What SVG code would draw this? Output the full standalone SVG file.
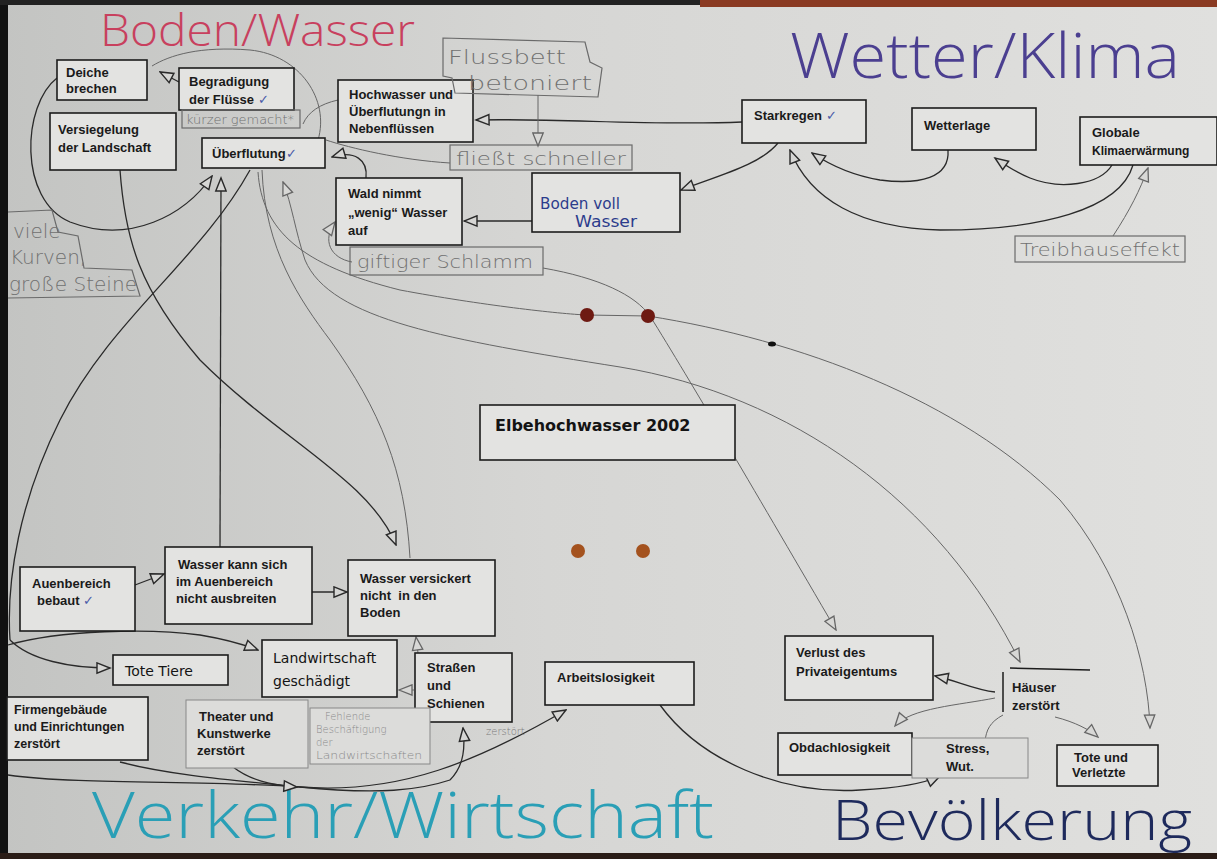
<svg xmlns="http://www.w3.org/2000/svg" width="1217" height="859" viewBox="0 0 1217 859">
<defs>
<linearGradient id="bg" x1="0" y1="0" x2="1" y2="0">
<stop offset="0" stop-color="#c3c4c2"/>
<stop offset="0.45" stop-color="#d6d6d4"/>
<stop offset="1" stop-color="#e0e0de"/>
</linearGradient>
<marker id="a" viewBox="0 0 12 10" refX="11" refY="5" markerWidth="16" markerHeight="13" markerUnits="userSpaceOnUse" orient="auto">
<path d="M1,1 L11,5 L1,9 Z" fill="#d6d6d4" stroke="#2a2a2a" stroke-width="1.1"/>
</marker>
<marker id="g" viewBox="0 0 12 10" refX="11" refY="5" markerWidth="16" markerHeight="13" markerUnits="userSpaceOnUse" orient="auto">
<path d="M1,1 L11,5 L1,9 Z" fill="#d8d8d6" stroke="#666" stroke-width="1"/>
</marker>
<style>
.box{fill:#e3e3e1;stroke:#1c1c1c;stroke-width:1.6}
.fbox{fill:#dcdcda;stroke:#888;stroke-width:1}
.hb{fill:none;stroke:#6a6a6a;stroke-width:1.2}
.t{font-family:"Liberation Sans",Arial,sans-serif;font-weight:bold;fill:#1a1a1a}
.r{font-family:"DejaVu Sans",sans-serif;fill:#141414}
.hw{font-family:"DejaVu Sans",sans-serif;font-weight:200;fill:#707070}
.ck{fill:#4a5aa8;font-weight:normal}
.c{fill:none;stroke:#2a2a2a;stroke-width:1.3}
.cg{fill:none;stroke:#666;stroke-width:1}
.title{font-family:"Open Sans","DejaVu Sans",sans-serif;font-weight:300}
</style>
</defs>
<rect x="0" y="0" width="1217" height="859" fill="url(#bg)"/>
<rect x="0" y="0" width="8" height="859" fill="#111"/>
<rect x="0" y="0" width="1217" height="5" fill="#222"/>
<rect x="700" y="0" width="517" height="7" fill="#8a3a22"/>
<rect x="0" y="853" width="1217" height="6" fill="#2a1c16"/>

<g id="titles">
<text class="title" x="100" y="46" font-size="44" fill="#c8405e" textLength="315" lengthAdjust="spacingAndGlyphs">Boden/Wasser</text>
<text class="title" x="790" y="78" font-size="62" fill="#4b3f90" textLength="390" lengthAdjust="spacingAndGlyphs">Wetter/Klima</text>
<text class="title" x="92" y="838" font-size="64" fill="#2a9fb6" textLength="622" lengthAdjust="spacingAndGlyphs">Verkehr/Wirtschaft</text>
<text class="title" x="832" y="840" font-size="56" fill="#1e2a5c" textLength="360" lengthAdjust="spacingAndGlyphs">Bevölkerung</text>
</g>

<g id="connectors">
<path class="c" d="M179,82 L160,72" marker-end="url(#a)"/>
<path class="c" d="M57,78 C22,105 18,200 70,222 C130,245 185,215 212,176" marker-end="url(#a)"/>
<path class="cg" d="M318,140 C330,100 300,55 250,50 C200,46 170,55 152,66"/>
<path class="c" d="M120,170 C125,240 140,290 200,360 C280,440 370,480 396,545" marker-end="url(#a)"/>
<path class="c" d="M220,547 L221,178" marker-end="url(#a)"/>
<path class="c" d="M250,170 C200,260 110,320 60,420 C20,500 6,580 10,640"/>
<path class="c" d="M10,640 C30,660 70,668 110,668" marker-end="url(#a)"/>
<path class="c" d="M8,645 C60,630 150,628 200,635 C230,640 245,645 258,650" marker-end="url(#a)"/>
<path class="cg" d="M262,170 C265,250 300,300 330,340 C380,410 405,470 410,558"/>
<path class="cg" d="M258,172 C262,230 300,265 400,290 C480,305 560,314 587,315 L648,316 C800,340 960,400 1060,500 C1120,570 1148,660 1150,728" marker-end="url(#g)"/>
<path class="cg" d="M543,268 C600,278 635,295 650,316 C690,380 760,500 836,630" marker-end="url(#g)"/>
<path class="cg" d="M620,367 C450,340 330,320 305,260 C295,230 292,205 283,182" marker-end="url(#g)"/>
<path class="cg" d="M620,367 C790,395 940,500 1020,662" marker-end="url(#g)"/>
<path class="c" d="M366,178 C368,160 355,150 332,157" marker-end="url(#a)"/>
<path class="c" d="M742,122 C650,126 560,118 476,120" marker-end="url(#a)"/>
<path class="cg" d="M538,95 L538,146" marker-end="url(#g)"/>
<path class="cg" d="M450,163 C400,160 350,148 326,140"/>
<path class="cg" d="M338,100 C320,104 308,112 303,124"/>
<path class="c" d="M778,143 C760,165 720,175 681,190" marker-end="url(#a)"/>
<path class="c" d="M532,221 L464,221" marker-end="url(#a)"/>
<path class="cg" d="M352,262 C330,258 322,240 335,222" marker-end="url(#g)"/>
<path class="c" d="M948,150 C950,178 920,185 880,180 C850,175 830,165 812,153" marker-end="url(#a)"/>
<path class="c" d="M1133,165 C1120,210 1040,230 940,230 C860,228 810,200 790,150" marker-end="url(#a)"/>
<path class="c" d="M1112,165 C1100,185 1060,190 1030,178 C1015,172 1005,165 995,158" marker-end="url(#a)"/>
<path class="cg" d="M1113,236 C1130,210 1140,190 1148,168" marker-end="url(#g)"/>
<path class="c" d="M135,585 L164,574" marker-end="url(#a)"/>
<path class="c" d="M312,592 L347,592" marker-end="url(#a)"/>
<path class="cg" d="M418,653 L416,637" marker-end="url(#g)"/>
<path class="cg" d="M414,690 L399,690" marker-end="url(#g)"/>
<path class="c" d="M120,762 C170,775 230,780 300,787 C380,795 420,790 450,780"/>
<path class="c" d="M8,775 C80,785 200,780 300,787 C400,795 480,760 566,710" marker-end="url(#a)"/>
<path class="c" d="M233,767 C250,780 270,785 297,787" marker-end="url(#a)"/>
<path class="c" d="M450,780 C465,765 465,745 463,728" marker-end="url(#a)"/>
<path class="c" d="M660,705 C700,760 780,795 860,790 C900,788 925,783 940,776" marker-end="url(#a)"/>
<path class="c" d="M995,692 C975,690 955,680 935,676" marker-end="url(#a)"/>
<path class="cg" d="M995,698 C960,705 910,708 895,726" marker-end="url(#g)"/>
<path class="cg" d="M1003,715 C990,722 986,730 985,742"/>
<path class="cg" d="M1055,717 C1075,722 1090,730 1098,737" marker-end="url(#g)"/>
<path class="cg" d="M915,752 L928,758" marker-end="url(#g)"/>
</g>

<g id="dots">
<circle cx="587" cy="315" r="7" fill="#6e1a12"/>
<circle cx="648" cy="316" r="7" fill="#6e1a12"/>
<circle cx="578" cy="551" r="7" fill="#a4521e"/>
<circle cx="643" cy="551" r="7" fill="#a4521e"/>
<ellipse cx="772" cy="344" rx="4" ry="2.5" fill="#111"/>
</g>

<g id="deiche"><rect class="box" x="57" y="60" width="90" height="40"/><text class="t" style="font-size:13px" x="66" y="77">Deiche</text><text class="t" style="font-size:13px" x="66" y="93">brechen</text></g>
<g id="begradigung"><rect class="box" x="179" y="68" width="115" height="42"/><text class="t" style="font-size:13px" x="189" y="86">Begradigung</text><text class="t" style="font-size:13px" x="189" y="104">der Flüsse <tspan class="ck">✓</tspan></text></g>
<g id="kuerzer"><rect class="hb" x="182" y="110" width="118" height="18"/><text class="hw" style="font-size:13px" x="186" y="124" textLength="108" lengthAdjust="spacingAndGlyphs">kürzer gemacht*</text></g>
<g id="versiegelung"><rect class="box" x="50" y="113" width="126" height="57"/><text class="t" style="font-size:13px" x="58" y="134">Versiegelung</text><text class="t" style="font-size:13px" x="58" y="152">der Landschaft</text></g>
<g id="ueberflutung"><rect class="box" x="202" y="138" width="123" height="30"/><text class="t" style="font-size:13px" x="212" y="158">Überflutung<tspan class="ck">✓</tspan></text></g>
<g id="hochwasser"><rect class="box" x="338" y="80" width="135" height="62"/><text class="t" style="font-size:13px" x="349" y="99">Hochwasser und</text><text class="t" style="font-size:13px" x="349" y="116">Überflutungn in</text><text class="t" style="font-size:13px" x="349" y="133">Nebenflüssen</text></g>
<g id="flussbett"><path class="hb" d="M443,38 L585,42 L590,62 L602,68 L598,97 L455,93 L452,78 L443,76 Z"/><text class="hw" style="font-size:19px" x="448" y="64" textLength="118" lengthAdjust="spacingAndGlyphs">Flussbett</text><text class="hw" style="font-size:19px" x="468" y="90" textLength="124" lengthAdjust="spacingAndGlyphs">betoniert</text></g>
<g id="fliesst"><rect class="hb" x="450" y="145" width="182" height="25"/><text class="hw" style="font-size:18px" x="456" y="165" textLength="170" lengthAdjust="spacingAndGlyphs">fließt schneller</text></g>
<g id="wald"><rect class="box" x="336" y="178" width="126" height="67"/><text class="t" style="font-size:13px" x="348" y="198">Wald nimmt</text><text class="t" style="font-size:13px" x="348" y="217">„wenig“ Wasser</text><text class="t" style="font-size:13px" x="348" y="235">auf</text></g>
<g id="schlamm"><rect class="hb" x="350" y="247" width="193" height="28"/><text class="hw" style="font-size:18px" x="357" y="268" textLength="176" lengthAdjust="spacingAndGlyphs">giftiger Schlamm</text></g>
<g id="bodenvoll"><rect class="box" x="532" y="173" width="148" height="59"/><text class="hw" style="font-size:16px;fill:#2c3c8c;font-weight:normal" x="540" y="209" textLength="80" lengthAdjust="spacingAndGlyphs">Boden voll</text><text class="hw" style="font-size:16px;fill:#2c3c8c;font-weight:normal" x="575" y="227" textLength="62" lengthAdjust="spacingAndGlyphs">Wasser</text></g>
<g id="starkregen"><rect class="box" x="742" y="100" width="124" height="43"/><text class="t" style="font-size:13px" x="754" y="120">Starkregen <tspan class="ck">✓</tspan></text></g>
<g id="wetterlage"><rect class="box" x="912" y="108" width="124" height="42"/><text class="t" style="font-size:13px" x="924" y="130">Wetterlage</text></g>
<g id="globale"><rect class="box" x="1080" y="117" width="137" height="48"/><text class="t" style="font-size:13px" x="1092" y="137">Globale</text><text class="t" style="font-size:12px" x="1092" y="155">Klimaerwärmung</text></g>
<g id="treibhaus"><rect class="hb" x="1015" y="236" width="170" height="26"/><text class="hw" style="font-size:17px" x="1020" y="256" textLength="160" lengthAdjust="spacingAndGlyphs">Treibhauseffekt</text></g>
<g id="kurven"><path class="hb" d="M8,212 L52,210 L58,232 L78,236 L84,268 L132,270 L140,296 L8,298"/><text class="hw" style="font-size:20px" x="13" y="238">viele</text><text class="hw" style="font-size:20px" x="10" y="264">Kurven,</text><text class="hw" style="font-size:20px" x="9" y="291" textLength="128" lengthAdjust="spacingAndGlyphs">große Steine</text></g>
<g id="elbe"><rect class="box" x="480" y="405" width="255" height="55" stroke-width="2"/><text class="r" style="font-size:16px;font-weight:bold" x="495" y="431">Elbehochwasser 2002</text></g>
<g id="auenbereich"><rect class="box" x="20" y="567" width="115" height="64"/><text class="t" style="font-size:13px" x="32" y="588">Auenbereich</text><text class="t" style="font-size:13px" x="37" y="605">bebaut <tspan class="ck">✓</tspan></text></g>
<g id="wasserkann"><rect class="box" x="165" y="547" width="147" height="77"/><text class="t" style="font-size:13px" x="178" y="569">Wasser kann sich</text><text class="t" style="font-size:13px" x="176" y="586">im Auenbereich</text><text class="t" style="font-size:13px" x="176" y="603">nicht ausbreiten</text></g>
<g id="versickert"><rect class="box" x="348" y="560" width="147" height="76"/><text class="t" style="font-size:13px" x="360" y="583">Wasser versickert</text><text class="t" style="font-size:13px" x="360" y="600" xml:space="preserve">nicht  in den</text><text class="t" style="font-size:13px" x="360" y="617">Boden</text></g>
<g id="totetiere"><rect class="box" x="113" y="655" width="115" height="30" stroke="#555"/><text class="r" style="font-size:14px" x="125" y="676">Tote Tiere</text></g>
<g id="landwirtschaft"><rect class="box" x="262" y="640" width="135" height="57"/><text class="r" style="font-size:14px" x="273" y="663">Landwirtschaft</text><text class="r" style="font-size:14px" x="273" y="686">geschädigt</text></g>
<g id="strassen"><rect class="box" x="415" y="653" width="97" height="69"/><text class="t" style="font-size:13px" x="427" y="672">Straßen</text><text class="t" style="font-size:13px" x="427" y="690">und</text><text class="t" style="font-size:13px" x="427" y="708">Schienen</text></g>
<g id="firmen"><rect class="box" x="7" y="697" width="141" height="63"/><text class="t" style="font-size:12.5px" x="14" y="714">Firmengebäude</text><text class="t" style="font-size:12.5px" x="14" y="731">und Einrichtungen</text><text class="t" style="font-size:12.5px" x="14" y="748">zerstört</text></g>
<g id="theater"><rect class="fbox" x="186" y="700" width="122" height="68"/><text class="t" style="font-size:13px" x="199" y="721">Theater und</text><text class="t" style="font-size:13px" x="197" y="738">Kunstwerke</text><text class="t" style="font-size:13px" x="197" y="755">zerstört</text></g>
<g id="fehlende"><rect class="fbox" x="310" y="708" width="120" height="56" stroke="#aaa"/><text class="hw" style="font-size:10px;fill:#8a8a8a" x="325" y="720">Fehlende</text><text class="hw" style="font-size:10px;fill:#8a8a8a" x="316" y="733">Beschäftigung</text><text class="hw" style="font-size:10px;fill:#8a8a8a" x="316" y="746">der</text><text class="hw" style="font-size:10px;fill:#8a8a8a" x="316" y="759" textLength="106" lengthAdjust="spacingAndGlyphs">Landwirtschaften</text></g>
<g id="zerstoert"><text class="hw" style="font-size:10px;fill:#7a7a7a" x="486" y="735">zerstört</text></g>
<g id="arbeitslosigkeit"><rect class="box" x="545" y="662" width="149" height="43"/><text class="t" style="font-size:13px" x="557" y="682">Arbeitslosigkeit</text></g>
<g id="verlust"><rect class="box" x="785" y="636" width="148" height="64"/><text class="t" style="font-size:13px" x="796" y="657">Verlust des</text><text class="t" style="font-size:13px" x="796" y="676">Privateigentums</text></g>
<g id="haeuser"><path d="M1003,672 L1003,712 M1010,668 L1090,670" stroke="#1c1c1c" stroke-width="1.5" fill="none"/><text class="t" style="font-size:13px" x="1012" y="692">Häuser</text><text class="t" style="font-size:13px" x="1012" y="710">zerstört</text></g>
<g id="obdach"><rect class="box" x="778" y="733" width="134" height="42" stroke="#666"/><text class="t" style="font-size:13px" x="789" y="752">Obdachlosigkeit</text></g>
<g id="stress"><rect class="fbox" x="912" y="738" width="116" height="40" stroke="#bbb"/><text class="t" style="font-size:13px" x="946" y="753">Stress,</text><text class="t" style="font-size:13px" x="946" y="771">Wut.</text></g>
<g id="tote"><rect class="box" x="1057" y="745" width="101" height="41"/><text class="t" style="font-size:13px" x="1074" y="762">Tote und</text><text class="t" style="font-size:13px" x="1072" y="777">Verletzte</text></g>
</svg>
